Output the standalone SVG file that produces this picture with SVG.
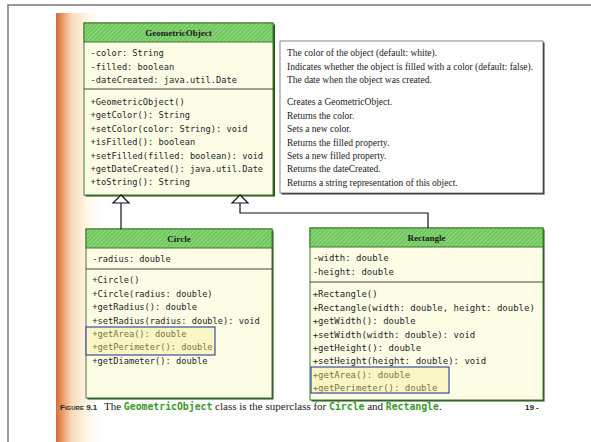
<svg xmlns="http://www.w3.org/2000/svg" width="591" height="442" viewBox="0 0 591 442">
<defs>
<linearGradient id="stripe" x1="0" y1="0" x2="1" y2="0">
<stop offset="0" stop-color="#d8683a"/>
<stop offset="0.15" stop-color="#e89a68"/>
<stop offset="0.35" stop-color="#f8d8b8"/>
<stop offset="0.7" stop-color="#fff6e6"/>
<stop offset="1" stop-color="#ffffff"/>
</linearGradient>
<pattern id="hatch" width="3" height="3" patternUnits="userSpaceOnUse" patternTransform="rotate(45)">
<rect width="3" height="3" fill="#6cc45a"/>
<rect width="1.2" height="3" fill="#92d982"/>
</pattern>
<style>
.frame{fill:none;stroke:#7a7a7a;stroke-width:1.5}
.shadow{fill:#24501a}
.body{fill:#fdfde6;stroke:#3d7a2c;stroke-width:1}
.head{fill:url(#hatch);stroke:#3d7a2c;stroke-width:1}
.div{stroke:#444;stroke-width:1}
.h{font-family:"Liberation Serif",serif;font-weight:bold;font-size:9px;fill:#1a1a1a;text-anchor:middle}
.m{font-family:"DejaVu Sans Mono",monospace;font-size:8.7px;fill:#1e1e1e}
.mr{font-family:"DejaVu Sans Mono",monospace;font-size:9px;fill:#1e1e1e}
.hl{fill:#76763e}
.hbox{fill:#faf6c4;stroke:#3b4ea0;stroke-width:1.2}
.n{font-family:"Liberation Serif",serif;font-size:9.5px;fill:#1a1a1a}
.note{fill:#ffffff;stroke:#666;stroke-width:0.8}
.nshadow{fill:#2c3a22}
.edge{fill:none;stroke:#111;stroke-width:1.2}
.tri{fill:#ffffff;stroke:#111;stroke-width:1.2}
.cap{font-family:"Liberation Serif",serif;font-size:11px;fill:#1a1a1a}
.capm{font-family:"DejaVu Sans Mono",monospace;font-weight:bold;font-size:9.8px;fill:#3a9a2a}
</style>
</defs>
<rect x="0" y="0" width="591" height="442" fill="#ffffff"/>
<path class="frame" d="M8,442 V5 H591"/>
<rect x="56" y="13" width="44" height="429" fill="url(#stripe)"/>

<g id="GeometricObject">
<rect class="shadow" x="85.5" y="24.5" width="189.5" height="172"/>
<rect class="body" x="84" y="23" width="189" height="172"/>
<rect class="head" x="84" y="23" width="189" height="19"/>
<text class="h" x="178.5" y="36">GeometricObject</text>
<line class="div" x1="84" y1="89" x2="273" y2="89"/>
<text class="m" x="90.5" y="56">-color: String</text>
<text class="m" x="90.5" y="69.6">-filled: boolean</text>
<text class="m" x="90.5" y="83.2">-dateCreated: java.util.Date</text>
<text class="m" x="90.5" y="105">+GeometricObject()</text>
<text class="m" x="90.5" y="118.4">+getColor(): String</text>
<text class="m" x="90.5" y="131.8">+setColor(color: String): void</text>
<text class="m" x="90.5" y="145.2">+isFilled(): boolean</text>
<text class="m" x="90.5" y="158.6">+setFilled(filled: boolean): void</text>
<text class="m" x="90.5" y="172">+getDateCreated(): java.util.Date</text>
<text class="m" x="90.5" y="185.4">+toString(): String</text>
</g>

<g id="notes">
<rect class="nshadow" x="281.5" y="42.5" width="263" height="152"/>
<rect class="note" x="280" y="41" width="263" height="152"/>
<text class="n" x="287" y="56">The color of the object (default: white).</text>
<text class="n" x="287" y="70.4">Indicates whether the object is filled with a color (default: false).</text>
<text class="n" x="287" y="83.4">The date when the object was created.</text>
<text class="n" x="287" y="105">Creates a GeometricObject.</text>
<text class="n" x="287" y="118.6">Returns the color.</text>
<text class="n" x="287" y="132">Sets a new color.</text>
<text class="n" x="287" y="145.6">Returns the filled property.</text>
<text class="n" x="287" y="158.8">Sets a new filled property.</text>
<text class="n" x="287" y="172.2">Returns the dateCreated.</text>
<text class="n" x="287" y="185.6">Returns a string representation of this object.</text>
</g>

<g id="Circle">
<rect class="shadow" x="87.5" y="230.5" width="186" height="169"/>
<rect class="body" x="86" y="229" width="186" height="169"/>
<rect class="head" x="86" y="229" width="186" height="19"/>
<text class="h" x="179" y="242">Circle</text>
<line class="div" x1="86" y1="269" x2="272" y2="269"/>
<text class="m" x="92.3" y="262.2">-radius: double</text>
<text class="m" x="92.3" y="283.3">+Circle()</text>
<text class="m" x="92.3" y="296.7">+Circle(radius: double)</text>
<text class="m" x="92.3" y="310.1">+getRadius(): double</text>
<text class="m" x="92.3" y="323.5">+setRadius(radius: double): void</text>
<rect class="hbox" x="86" y="327" width="129" height="28"/>
<text class="m hl" x="92.3" y="336.9">+getArea(): double</text>
<text class="m hl" x="92.3" y="350.3">+getPerimeter(): double</text>
<text class="m" x="92.3" y="363.7">+getDiameter(): double</text>
</g>

<g id="Rectangle">
<rect class="shadow" x="311.5" y="229.5" width="233" height="172"/>
<rect class="body" x="310" y="228" width="233" height="172"/>
<rect class="head" x="310" y="228" width="233" height="19"/>
<text class="h" x="426.5" y="241">Rectangle</text>
<line class="div" x1="310" y1="282" x2="543" y2="282"/>
<text class="mr" x="312.7" y="261.3">-width: double</text>
<text class="mr" x="312.7" y="274.7">-height: double</text>
<text class="mr" x="312.7" y="297.3">+Rectangle()</text>
<text class="mr" x="312.7" y="310.7">+Rectangle(width: double, height: double)</text>
<text class="mr" x="312.7" y="324.1">+getWidth(): double</text>
<text class="mr" x="312.7" y="337.5">+setWidth(width: double): void</text>
<text class="mr" x="312.7" y="350.9">+getHeight(): double</text>
<text class="mr" x="312.7" y="364.3">+setHeight(height: double): void</text>
<rect class="hbox" x="311" y="367" width="138" height="26"/>
<text class="mr hl" x="312.7" y="377.7">+getArea(): double</text>
<text class="mr hl" x="312.7" y="391.1">+getPerimeter(): double</text>
</g>

<g id="connectors">
<path class="edge" d="M121,203 V229"/>
<polygon class="tri" points="121,195 129,203 113,203"/>
<path class="edge" d="M240,203 V213 H428 V228"/>
<polygon class="tri" points="240,195 248,203 232,203"/>
</g>

<g id="caption">
<text x="60" y="410" font-family="Liberation Sans, sans-serif" font-weight="bold" font-size="8px" fill="#2a2a2a">F<tspan font-size="6px">IGURE</tspan> 9.1</text>
<text class="cap" x="104" y="410">The <tspan class="capm">GeometricObject</tspan> class is the superclass for <tspan class="capm">Circle</tspan> and <tspan class="capm">Rectangle</tspan>.</text>
<text x="525" y="410" font-family="Liberation Sans, sans-serif" font-weight="bold" font-size="8px" fill="#222">19 -</text>
</g>
</svg>
